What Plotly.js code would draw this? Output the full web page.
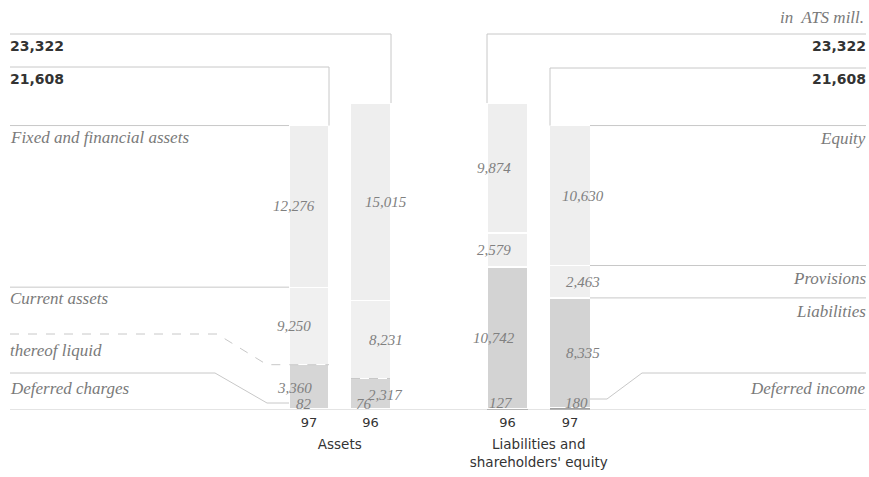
<!DOCTYPE html>
<html>
<head>
<meta charset="utf-8">
<script src="https://cdn.plot.ly/plotly-3.0.1.min.js"></script>
<style>html,body{margin:0;padding:0;background:#fff;}#chart{width:869px;height:477px;}</style>
</head>
<body>
<div id="chart"></div>
<script>
// ---- data (ATS mill.) ----
const assetYears = ['97', '96'];
const liabYears = ['96', '97'];
const deferredCharges = [82, 76];
const thereofLiquid = [3360, 2317];
const currentAssets = [9250, 8231];
const fixedAssets = [12276, 15015];
const deferredIncome = [127, 180];
const liabilities = [10742, 8335];
const provisions = [2579, 2463];
const equity = [9874, 10630];
const unitLabel = 'in  ATS mill.';

// ---- layout helpers ----
const W = 869, BASE = 410, TOP = 5;
const YMAX = 30767;
const px = x => x / W;
const pyP = y => (BASE - y) / (BASE - TOP);
const pyD = y => (BASE - y) / (BASE - TOP) * YMAX;
const fmt = v => v.toLocaleString('en-US');
const sum = arrs => arrs[0].map((_, i) => arrs.reduce((s, a) => s + a[i], 0));

const currentOther = currentAssets.map((v, i) => v - thereofLiquid[i]);
const totalA = sum([deferredCharges, currentAssets, fixedAssets]);
const totalL = sum([deferredIncome, liabilities, provisions, equity]);

const SERIF = 'Liberation Serif, DejaVu Serif, serif';
const SANS = 'DejaVu Sans, Liberation Sans, sans-serif';
const LINE = '#c8c8c8';

function bar(x, y, color, xa, lw) {
  return {type: 'bar', x: x, y: y, xaxis: xa, yaxis: 'y',
    marker: {color: color, line: {color: '#ffffff', width: lw}},
    hoverinfo: 'y', showlegend: false};
}
const traces = [
  bar(assetYears, deferredCharges, '#a2a2a2', 'x', 0),
  bar(assetYears, thereofLiquid, '#d6d6d6', 'x', 1.2),
  bar(assetYears, currentOther, '#f0f0f0', 'x', 1.2),
  bar(assetYears, fixedAssets, '#eeeeee', 'x', 1.2),
  bar(liabYears, deferredIncome, '#a2a2a2', 'x2', 0),
  bar(liabYears, liabilities, '#d3d3d3', 'x2', 1.2),
  bar(liabYears, provisions, '#efefef', 'x2', 1.2),
  bar(liabYears, equity, '#eeeeee', 'x2', 1.2)
];

// ---- guide lines ----
function path(pts, dash) {
  const d = pts.map((p, i) => (i ? 'L' : 'M') + p[0] + ',' + p[1]).join(' ');
  return {type: 'path', path: d, xref: 'paper', yref: 'y',
    line: {color: LINE, width: 1, dash: dash || 'solid'}};
}
const a97 = 0, a96 = 1, l96 = 0, l97 = 1;
const shapes = [
  path([[px(10), 0], [px(866), 0]]),
  path([[px(10), pyD(34)], [px(391), pyD(34)], [px(391), totalA[a96]]]),
  path([[px(10), pyD(67)], [px(329), pyD(67)], [px(329), totalA[a97]]]),
  path([[px(10), totalA[a97]], [px(289), totalA[a97]]]),
  path([[px(10), deferredCharges[a97] + currentAssets[a97]], [px(289), deferredCharges[a97] + currentAssets[a97]]]),
  path([[px(10), pyD(334)], [px(217), pyD(334)], [px(267), deferredCharges[a97] + thereofLiquid[a97]], [px(329), deferredCharges[a97] + thereofLiquid[a97]]], 'dash'),
  path([[px(351), deferredCharges[a96] + thereofLiquid[a96]], [px(390), deferredCharges[a96] + thereofLiquid[a96]]], 'dash'),
  path([[px(10), pyD(373)], [px(215), pyD(373)], [px(267), pyD(403)], [px(289), pyD(403)]]),
  path([[px(866), pyD(34)], [px(487), pyD(34)], [px(487), totalL[l96]]]),
  path([[px(866), pyD(68)], [px(550), pyD(68)], [px(550), totalL[l97]]]),
  path([[px(590), totalL[l97]], [px(866), totalL[l97]]]),
  path([[px(590), deferredIncome[l97] + liabilities[l97] + provisions[l97]], [px(866), deferredIncome[l97] + liabilities[l97] + provisions[l97]]]),
  path([[px(590), deferredIncome[l97] + liabilities[l97]], [px(866), deferredIncome[l97] + liabilities[l97]]]),
  path([[px(590), pyD(399)], [px(607), pyD(399)], [px(642), pyD(373)], [px(866), pyD(373)]])
];

// ---- annotations ----
const ann = [];
function txt(text, x, y, xanchor, font) {
  ann.push({text: text, x: x, y: y, xref: 'paper', yref: 'paper',
    xanchor: xanchor, yanchor: 'middle', showarrow: false, font: font});
}
const fSerif = {family: SERIF, size: 17, color: '#7a7a7a', style: 'italic'};
const fTot = {family: SANS, size: 14, color: '#333333', weight: 'bold'};
txt(unitLabel, px(866), pyP(17), 'right', fSerif);
txt(fmt(totalA[a96]), px(8), pyP(46), 'left', fTot);
txt(fmt(totalA[a97]), px(8), pyP(79), 'left', fTot);
txt(fmt(totalL[l96]), px(868), pyP(46), 'right', fTot);
txt(fmt(totalL[l97]), px(868), pyP(79), 'right', fTot);
txt('Fixed and financial assets', px(8), pyP(137), 'left', fSerif);
txt('Current assets', px(8), pyP(298), 'left', fSerif);
txt('thereof liquid', px(8), pyP(350), 'left', fSerif);
txt('Deferred charges', px(8), pyP(388), 'left', fSerif);
txt('Equity', px(868), pyP(138), 'right', fSerif);
txt('Provisions', px(868), pyP(278), 'right', fSerif);
txt('Liabilities', px(868), pyP(311), 'right', fSerif);
txt('Deferred income', px(868), pyP(388), 'right', fSerif);

// values inside bars (x = category index on the category axis)
const fVal = {family: SERIF, size: 15, color: '#808080', style: 'italic'};
function val(xa, idx, yMid, v, xs, ys) {
  ann.push({text: fmt(v), x: idx, y: yMid, xref: xa, yref: 'y', showarrow: false,
    xanchor: 'center', yanchor: 'middle', xshift: xs, yshift: ys || 0, font: fVal});
}
const aShift = [-15, 15], lShift = [-14, 13];
assetYears.forEach((c, i) => {
  const d = deferredCharges[i], q = thereofLiquid[i], co = currentOther[i], f = fixedAssets[i];
  val('x', i, 0, deferredCharges[i], i === 0 ? -5 : -7, 6);
  val('x', i, d + q / 2, thereofLiquid[i], aShift[i], -1);
  val('x', i, d + q + co / 2, currentAssets[i], aShift[i], 0);
  val('x', i, d + q + co + f / 2, fixedAssets[i], aShift[i], 0);
});
liabYears.forEach((c, i) => {
  const d = deferredIncome[i], l = liabilities[i], p = provisions[i], e = equity[i];
  val('x2', i, 0, deferredIncome[i], i === 0 ? -7 : 6, 7);
  val('x2', i, d + l / 2, liabilities[i], lShift[i], 0);
  val('x2', i, d + l + p / 2, provisions[i], lShift[i], 0);
  val('x2', i, d + l + p + e / 2, equity[i], lShift[i], 0);
});

const tickFont = {family: SANS, size: 13, color: '#333333'};
const titleFont = {family: SANS, size: 13.5, color: '#333333'};
const layout = {
  width: 869, height: 477,
  margin: {l: 0, r: 0, t: TOP, b: 477 - BASE},
  paper_bgcolor: '#ffffff', plot_bgcolor: 'rgba(0,0,0,0)',
  barmode: 'stack', bargap: 0.35,
  showlegend: false,
  xaxis: {domain: [px(278.25), px(401.25)], type: 'category', anchor: 'y',
    range: [-0.5, 1.5], autorange: false, ticklabelstandoff: 3,
    showgrid: false, zeroline: false, showline: false, ticks: '', tickfont: tickFont,
    title: {text: 'Assets', font: titleFont, standoff: 10}},
  xaxis2: {domain: [px(476.25), px(601.25)], type: 'category', anchor: 'y',
    range: [-0.5, 1.5], autorange: false, ticklabelstandoff: 3,
    showgrid: false, zeroline: false, showline: false, ticks: '', tickfont: tickFont,
    title: {text: 'Liabilities and<br>shareholders\' equity', font: titleFont, standoff: 10}},
  yaxis: {range: [0, YMAX], autorange: false, visible: false, showgrid: false, zeroline: false, anchor: 'x'},
  shapes: shapes,
  annotations: ann
};
Plotly.newPlot('chart', traces, layout, {displayModeBar: false, staticPlot: true});
</script>
</body>
</html>
